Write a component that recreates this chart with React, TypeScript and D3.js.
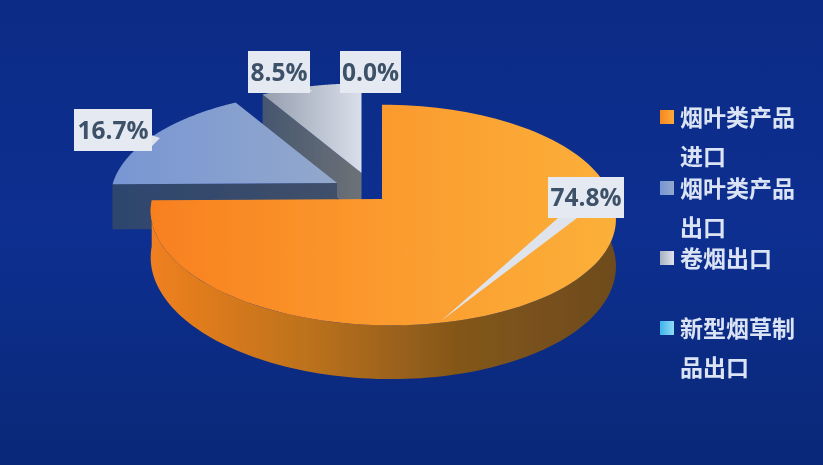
import React from "react";
import * as d3 from "d3";

const categories = ["烟叶类产品进口", "烟叶类产品出口", "卷烟出口", "新型烟草制品出口"];
const shares = [74.8, 16.7, 8.5, 0.0];
const legendLines = [["烟叶类产品", "进口"], ["烟叶类产品", "出口"], ["卷烟出口"], ["新型烟草制", "品出口"]];

const W = 823, H = 465;
const RX = 230, RY = 108, K = 0.145, DEPTH = 46, SHEAR = 9;
const pies = d3.pie<number>().sort(null).value((d) => d)(shares);
const pct = (v: number) => v.toFixed(1) + "%";

type Pt = [number, number];
const sliceFrames = [
  { cx: 382, cy: 199, s: 1 },
  { cx: 337, cy: 183, s: 0.974 },
  { cx: 361.5, cy: 173, s: 0.95 },
];
const project = (a: number, f: { cx: number; cy: number; s: number }, drop = 0): Pt => {
  const X = Math.sin(a), Z = Math.cos(a), w = 1 + K * Z;
  return [
    f.cx + (f.s * RX * X) / w + SHEAR * Math.max(0, -Z),
    f.cy - (f.s * RY * Z) / w + (drop ? (drop * f.s) / w : 0),
  ];
};
const line = d3.line<Pt>().x((d) => d[0]).y((d) => d[1]);
const arcPts = (a0: number, a1: number, f: any, drop = 0): Pt[] =>
  d3.range(0, 121).map((i) => project(a0 + ((a1 - a0) * i) / 120, f, drop));
const topPath = (a0: number, a1: number, f: any) => line([[f.cx, f.cy], ...arcPts(a0, a1, f)])! + "Z";
const wallPath = (a0: number, a1: number, f: any) =>
  line([...arcPts(a0, a1, f), ...arcPts(a0, a1, f, DEPTH).reverse()])! + "Z";
const radialWall = (a: number, f: any) => {
  const p = project(a, f);
  const q = project(a, f, DEPTH);
  return line([[f.cx, f.cy], p, q, [f.cx, f.cy + DEPTH]])! + "Z";
};

const labelBoxes = [
  { x: 548, y: 177, w: 76, h: 41 },
  { x: 74, y: 109, w: 78, h: 42 },
  { x: 248, y: 51, w: 62, h: 42 },
  { x: 340, y: 51, w: 61, h: 42 },
];
const pointers: Pt[][] = [
  [[558, 218], [577, 218], [441, 321]],
  [[148, 134], [160, 138], [148, 150]],
  [[305, 88], [313, 91], [306, 92]],
  [],
];
const legendSwatchColors = [
  ["#f7871f", "#fbab3a"],
  ["#7896d2", "#93a9cc"],
  ["#a9b1bf", "#dfe4ee"],
  ["#3fb4ea", "#8fdcf7"],
];
const legendRowY = [117, 188, 258, 328];

function Grad({ id, stops }: { id: string; stops: string[] }) {
  return (
    <linearGradient id={id} x1="0" y1="0" x2="1" y2="0">
      {stops.map((c, i) => (
        <stop key={i} offset={i / (stops.length - 1)} stopColor={c} />
      ))}
    </linearGradient>
  );
}

export default function App() {
  const [orange, blue, gray] = pies;
  const [fo, fb, fg] = sliceFrames;
  return (
    <svg width={W} height={H} style={{ position: "fixed", left: 0, top: 0 }}>
      <defs>
        <linearGradient id="bg" x1="0" y1="0" x2="0" y2="1">
          <stop offset="0" stopColor="#0c2b86" />
          <stop offset="0.5" stopColor="#0d2f90" />
          <stop offset="1" stopColor="#0a2878" />
        </linearGradient>
        <Grad id="oTop" stops={["#f8801f", "#fb9a2e", "#fbb03a"]} />
        <Grad id="oWall" stops={["#f08020", "#bd721c", "#825619", "#6e4b1c"]} />
        <Grad id="bTop" stops={["#7896d4", "#93a8cb"]} />
        <Grad id="bWall" stops={["#2e456e", "#3f506a"]} />
        <Grad id="gTop" stops={["#959eae", "#d9dfea"]} />
        <Grad id="gWall" stops={["#46566f", "#6d7277"]} />
        {legendSwatchColors.map((c, i) => (
          <Grad key={i} id={"sw" + i} stops={c} />
        ))}
        <filter id="soft" x="-5%" y="-5%" width="110%" height="110%">
          <feGaussianBlur stdDeviation="0.45" />
        </filter>
      </defs>
      <rect width={W} height={H} fill="url(#bg)" />
      <g filter="url(#soft)">
        <path d={radialWall(gray.startAngle, fg)} fill="url(#gWall)" />
        <path d={topPath(gray.startAngle, gray.endAngle, fg)} fill="url(#gTop)" />
        <path d={wallPath(blue.startAngle, blue.startAngle + 0.35, fb)} fill="#33486c" />
        <path d={radialWall(blue.startAngle, fb)} fill="url(#bWall)" />
        <path d={topPath(blue.startAngle, blue.endAngle, fb)} fill="url(#bTop)" />
        <path d={wallPath(Math.PI * 0.45, orange.endAngle, fo)} fill="url(#oWall)" />
        <path d={topPath(orange.startAngle, orange.endAngle, fo)} fill="url(#oTop)" />
        {labelBoxes.map((b, i) => (
          <g key={categories[i]}>
            {pointers[i].length > 0 && <path d={line(pointers[i])! + "Z"} fill="#dfe4ec" />}
            <rect x={b.x} y={b.y} width={b.w} height={b.h} fill="#e4e9f2" />
            <text
              x={b.x + b.w / 2}
              y={b.y + b.h / 2 + 8.5}
              textAnchor="middle"
              fontFamily="'Open Sans', sans-serif"
              fontWeight={700}
              fontSize={24.5}
              fill="#3e5169"
            >
              {pct(shares[i])}
            </text>
          </g>
        ))}
        {legendLines.map((lines, i) => (
          <g key={i}>
            <rect x={660} y={legendRowY[i] - 7} width={14} height={14} fill={`url(#sw${i})`} />
            {lines.map((t, j) => (
              <text
                key={j}
                x={680}
                y={legendRowY[i] + j * 39 + 8.5}
                fontFamily="'Noto Sans CJK SC', sans-serif"
                fontWeight={700}
                fontSize={23}
                fill="#dbe4f5"
              >
                {t}
              </text>
            ))}
          </g>
        ))}
      </g>
    </svg>
  );
}
